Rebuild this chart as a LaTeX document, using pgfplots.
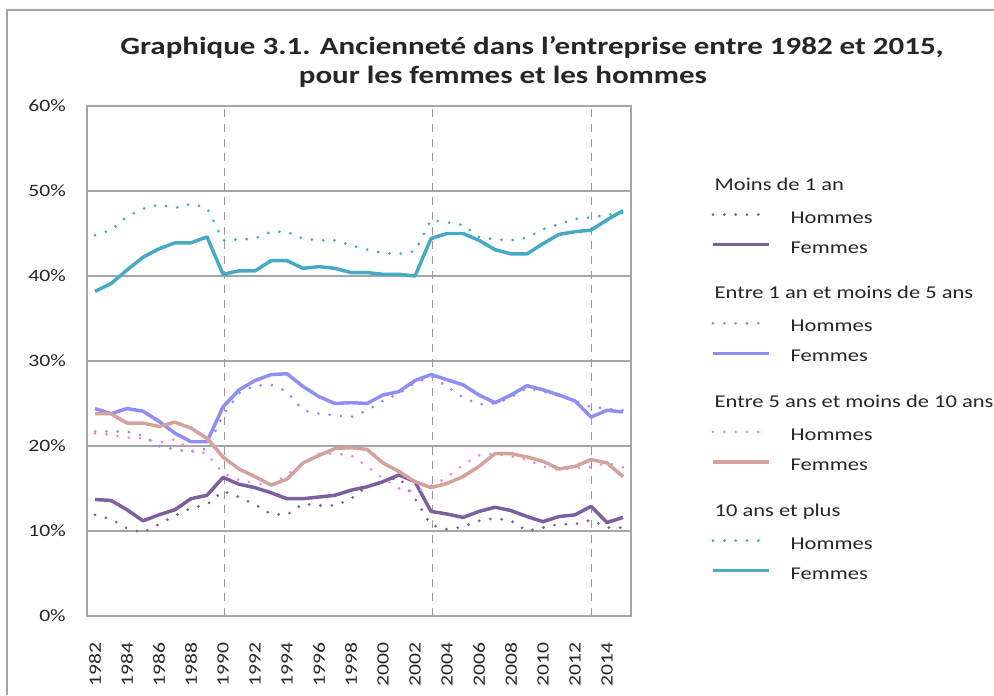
\documentclass[border=0pt]{standalone}
\usepackage{pgfplots}
\pgfplotsset{compat=1.18}
\usepackage{pgfplotstable}
\usepackage{fontspec}
\setmainfont{Carlito}[FakeStretch=1.25]

\definecolor{cm1}{HTML}{7D5FA0}
\definecolor{c15}{HTML}{8E8EF5}
\definecolor{c510F}{HTML}{D4A19C}
\definecolor{c510H}{HTML}{F285EC}
\definecolor{cp10}{HTML}{46AAC5}
\definecolor{gridc}{HTML}{A6A6A6}
\definecolor{txt}{HTML}{262626}

\pgfplotstableread{
year m1H m1F e15H e15F e510H e510F p10H p10F
1982 11.9 13.7 21.7 24.4 21.5 23.8 44.8 38.2
1983 11.4 13.6 21.7 23.8 21.3 23.8 45.4 39.1
1984 10.3 12.5 21.7 24.4 21.0 22.7 47.0 40.7
1985 9.8 11.2 21.2 24.1 20.9 22.7 47.9 42.2
1986 10.8 11.9 20.0 22.9 20.4 22.3 48.4 43.2
1987 11.8 12.5 19.6 21.5 20.8 22.8 48.0 43.9
1988 12.7 13.8 19.3 20.5 19.5 22.1 48.5 43.9
1989 13.1 14.2 19.7 20.5 19.1 20.9 48.0 44.6
1990 14.7 16.3 23.6 24.6 16.8 18.7 44.2 40.2
1991 14.0 15.5 26.2 26.6 16.0 17.3 44.3 40.6
1992 13.1 15.1 27.1 27.7 15.6 16.4 44.4 40.6
1993 12.0 14.5 27.2 28.4 15.4 15.4 45.2 41.8
1994 11.9 13.8 26.4 28.5 16.6 16.1 45.2 41.8
1995 13.2 13.8 24.2 27.0 18.0 18.0 44.4 40.9
1996 13.0 14.0 23.8 25.8 19.1 18.9 44.2 41.1
1997 13.0 14.2 23.6 25.0 19.1 19.7 44.2 40.9
1998 13.8 14.8 23.4 25.1 18.9 19.8 43.6 40.4
1999 15.2 15.2 24.2 25.0 17.6 19.6 43.1 40.4
2000 15.8 15.8 25.3 26.0 16.2 18.0 42.7 40.2
2001 16.3 16.6 26.2 26.4 15.0 17.0 42.6 40.2
2002 13.8 15.8 27.4 27.7 14.6 15.8 42.9 40.0
2003 10.7 12.3 28.2 28.4 15.3 15.1 46.6 44.4
2004 10.2 12.0 27.0 27.8 16.3 15.6 46.3 45.0
2005 10.5 11.6 25.7 27.2 17.8 16.4 46.0 45.0
2006 11.2 12.3 24.9 26.0 18.9 17.6 44.6 44.2
2007 11.5 12.8 25.0 25.1 19.1 19.1 44.3 43.1
2008 11.2 12.4 25.7 26.0 18.8 19.1 44.2 42.6
2009 10.0 11.7 26.8 27.1 18.4 18.7 44.5 42.6
2010 10.4 11.1 26.4 26.6 17.6 18.2 45.5 43.8
2011 10.8 11.7 25.9 26.0 17.2 17.3 46.1 44.9
2012 10.8 11.9 25.3 25.3 17.4 17.6 46.7 45.2
2013 11.3 12.9 24.6 23.4 17.5 18.4 46.9 45.4
2014 10.4 11.0 24.4 24.2 18.0 18.0 47.2 46.6
2015 10.4 11.6 24.2 24.0 17.5 16.4 47.4 47.7
}\data

\begin{document}
\begin{tikzpicture}[x=0.75pt,y=0.75pt]
\useasboundingbox (0,0) rectangle (994,695);
\draw[gridc, line width=1pt] (7,0) -- (7,685) -- (994,685);
\node[font=\bfseries\fontsize{18.6}{22}\selectfont, text=txt] at (532,648) {Graphique 3.1. Ancienneté dans l'entreprise entre 1982 et 2015,};
\node[font=\bfseries\fontsize{18.6}{22}\selectfont, text=txt] at (503,618) {pour les femmes et les hommes};
\begin{axis}[
  at={(65.25pt,59.25pt)}, anchor=south west,
  scale only axis, width=408pt, height=382.5pt,
  xmin=1981.5, xmax=2015.5, ymin=0, ymax=60,
  xtick={1982,1984,...,2014},
  ytick={0,10,...,60},
  major tick length=0pt,
  /pgf/number format/assume math mode=true,
  /pgf/number format/set thousands separator={},
  yticklabel={\pgfmathprintnumber{\tick}\%},
  ticklabel style={font=\fontsize{13}{16}\selectfont, text=txt},
  xticklabel style={rotate=90, anchor=east, inner sep=0pt},
  yticklabel style={anchor=east, inner sep=0pt},
  xticklabel shift=19.5pt,
  yticklabel shift=15.75pt,
  ymajorgrids,
  grid style={gridc, line width=1pt},
  axis line style={gridc, line width=1pt},
  legend cell align=left,
  legend image code/.code={\draw[#1] (0pt,3.5pt) -- (42pt,3.5pt);},
  legend style={at={(1.147,0.9033)}, anchor=north west, draw=none, fill=none,
     inner sep=0pt, column sep=15pt, row sep=0pt,
     nodes={inner sep=0pt, text height=14.25pt, text depth=8.25pt,
            font=\fontsize{13.5}{16}\selectfont, text=txt}},
  hdot/.style={line width=2.3pt, dash pattern=on 0pt off 8.5pt, line cap=round},
  fsol/.style={line width=2.6pt, line join=round},
]
\draw[gray!80, line width=0.8pt, dash pattern=on 6pt off 5pt] (axis cs:1990.1,0) -- (axis cs:1990.1,60);
\draw[gray!80, line width=0.8pt, dash pattern=on 6pt off 5pt] (axis cs:2003.1,0) -- (axis cs:2003.1,60);
\draw[gray!80, line width=0.8pt, dash pattern=on 6pt off 5pt] (axis cs:2013.05,0) -- (axis cs:2013.05,60);

\addlegendimage{empty legend}
\addlegendentry[text height=26pt, text depth=10.5pt]{\hspace*{-57pt}Moins de 1 an}
\addplot[cm1, hdot] table[x=year, y=m1H] {\data};
\addlegendentry{Hommes}
\addplot[cm1, fsol] table[x=year, y=m1F] {\data};
\addlegendentry{Femmes}

\addlegendimage{empty legend}
\addlegendentry[text height=26pt, text depth=10.5pt]{\hspace*{-57pt}Entre 1 an et moins de 5 ans}
\addplot[c15, hdot] table[x=year, y=e15H] {\data};
\addlegendentry{Hommes}
\addplot[c15, fsol] table[x=year, y=e15F] {\data};
\addlegendentry{Femmes}

\addlegendimage{empty legend}
\addlegendentry[text height=26pt, text depth=10.5pt]{\hspace*{-57pt}Entre 5 ans et moins de 10 ans}
\addplot[c510H, hdot] table[x=year, y=e510H] {\data};
\addlegendentry{Hommes}
\addplot[c510F, fsol] table[x=year, y=e510F] {\data};
\addlegendentry{Femmes}

\addlegendimage{empty legend}
\addlegendentry[text height=26pt, text depth=10.5pt]{\hspace*{-57pt}10 ans et plus}
\addplot[cp10, hdot] table[x=year, y=p10H] {\data};
\addlegendentry{Hommes}
\addplot[cp10, fsol] table[x=year, y=p10F] {\data};
\addlegendentry{Femmes}
\end{axis}
\end{tikzpicture}
\end{document}
